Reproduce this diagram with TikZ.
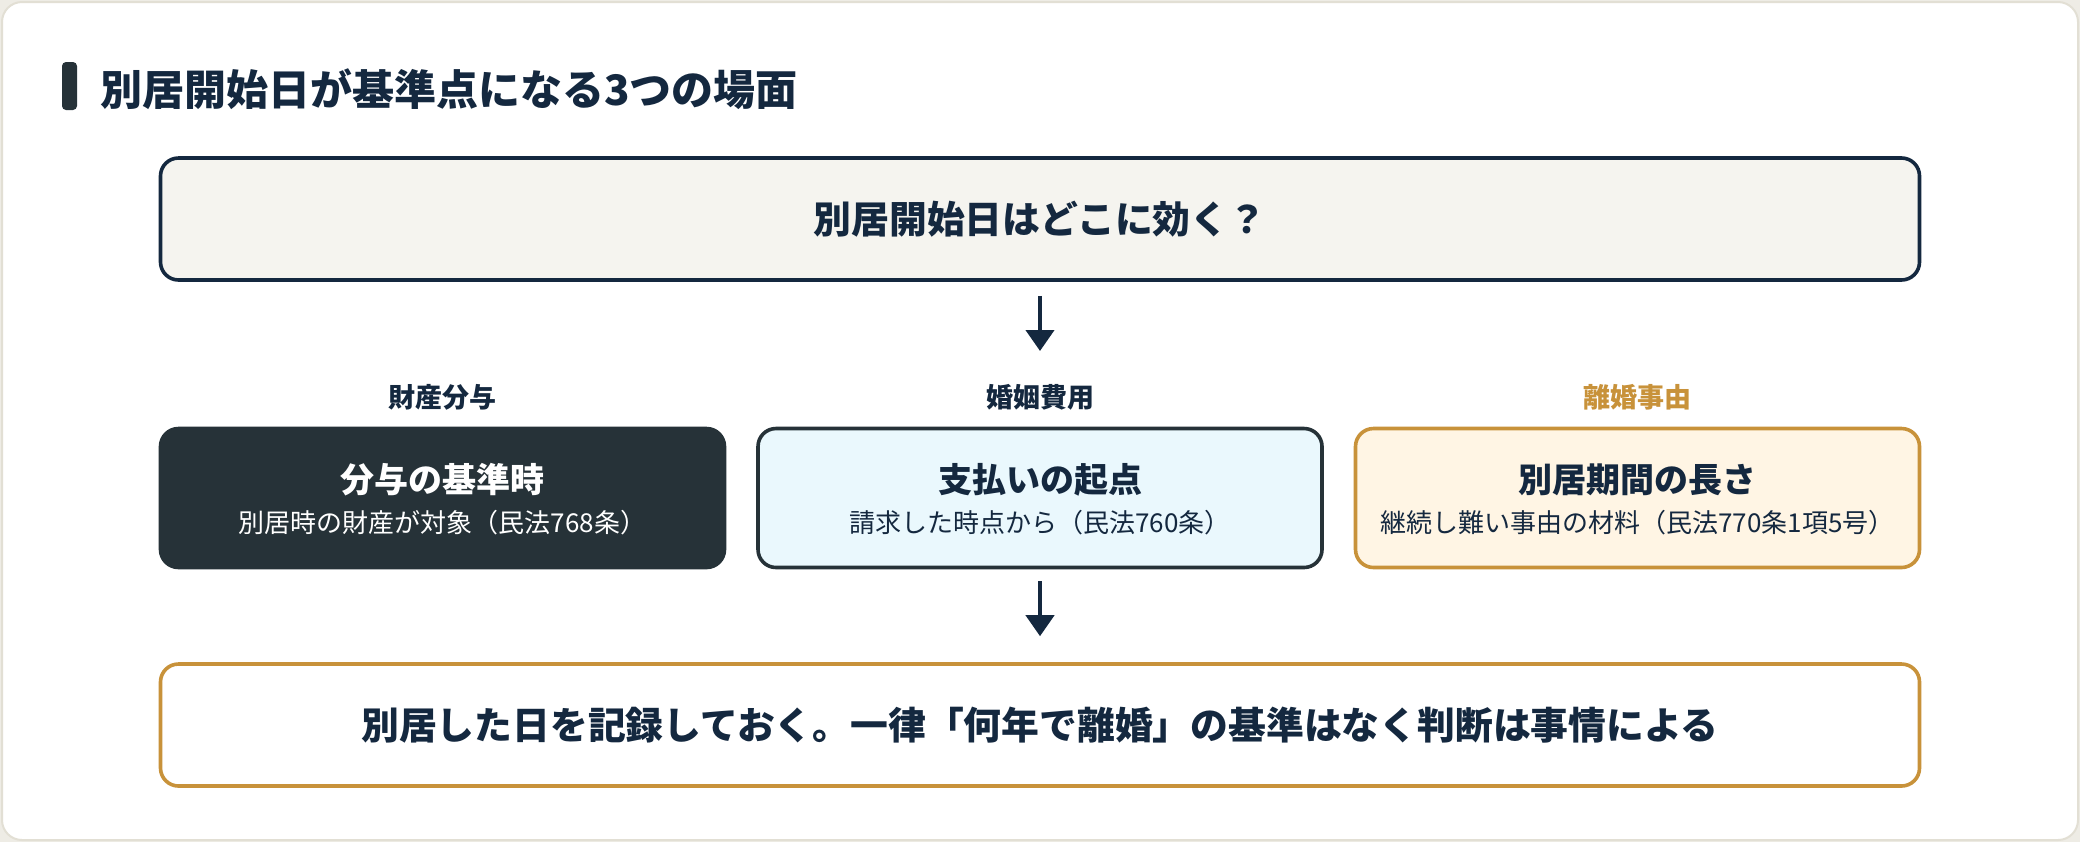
\documentclass[tikz,border=0pt]{standalone}
\usepackage{fontspec}
\setmainfont{Noto Sans CJK JP}
\usetikzlibrary{positioning,arrows.meta}

\definecolor{ink}{HTML}{14283F}
\definecolor{slate}{HTML}{263238}
\definecolor{gold}{HTML}{C8923A}
\definecolor{sky}{HTML}{EAF8FD}
\definecolor{cream}{HTML}{FFF5E4}
\definecolor{paper}{HTML}{F5F4EF}
\definecolor{rim}{HTML}{E2DFD4}

\begin{document}
\begin{tikzpicture}[x=0.5pt,y=-0.5pt,
  panel/.style={rounded corners=9pt, line width=1.8pt, inner sep=0pt},
  wide/.style={panel, minimum width=879.5pt, minimum height=61pt},
  case/.style={panel, minimum width=282pt, minimum height=69.5pt},
  tag/.style={font=\fontsize{13.5}{16}\selectfont\bfseries, text=ink, inner sep=0pt},
  head/.style={font=\fontsize{17}{20}\selectfont\bfseries, text=ink, inner sep=0pt},
  note/.style={font=\fontsize{13}{16}\selectfont, text=ink, inner sep=0pt},
  flow/.style={draw=ink, line width=2.1pt, -{Triangle[length=10.5pt,width=14pt]}}]

  % page and card
  \fill[rim!60] (0,0) rectangle (2080,842);
  \draw[rim, fill=white, line width=1pt, rounded corners=10pt] (2,2) rectangle (2078,840);

  % heading
  \fill[slate, rounded corners=2pt] (62,62) rectangle (77,110);
  \node[anchor=west, inner sep=0pt, text=ink, font=\fontsize{21}{24}\selectfont\bfseries]
    (heading) at (100,89) {別居開始日が基準点になる3つの場面};

  % question
  \node[wide, draw=ink, fill=paper, font=\fontsize{18.9}{22}\selectfont\bfseries, text=ink]
    (question) at (1040,219) {別居開始日はどこに効く？};
  \coordinate (tip) at (1040,351);
  \draw[flow, shorten <=7pt] (question) -- (tip);

  % three cases
  \node[tag] (zaisan) at (442.5,397) {財産分与};
  \node[tag] (konin) at (1040,397) {婚姻費用};
  \node[tag, text=gold] (rikon) at (1637.5,397) {離婚事由};

  \node[case, draw=slate, fill=slate] (fuyo) at (442.5,498) {};
  \node[head, text=white] at (442.5,480) {分与の基準時};
  \node[note, text=white] at (442.5,523) {別居時の財産が対象（民法768条）};

  \node[case, draw=slate, fill=sky] (shiharai) at (1040,498) {};
  \node[head] at (1040,480) {支払いの起点};
  \node[note] at (1040,523) {請求した時点から（民法760条）};

  \node[case, draw=gold, fill=cream] (kikan) at (1637.5,498) {};
  \node[head] at (1637.5,480) {別居期間の長さ};
  \node[note] at (1637.5,523) {継続し難い事由の材料（民法770条1項5号）};

  % summary
  \node[wide, draw=gold, fill=white, font=\fontsize{18.9}{22}\selectfont\bfseries, text=ink]
    (summary) at (1040,725) {別居した日を記録しておく。一律「何年で離婚」の基準はなく判断は事情による};
  \draw[flow, shorten <=6pt, shorten >=13pt] (shiharai) -- (summary);
\end{tikzpicture}
\end{document}
